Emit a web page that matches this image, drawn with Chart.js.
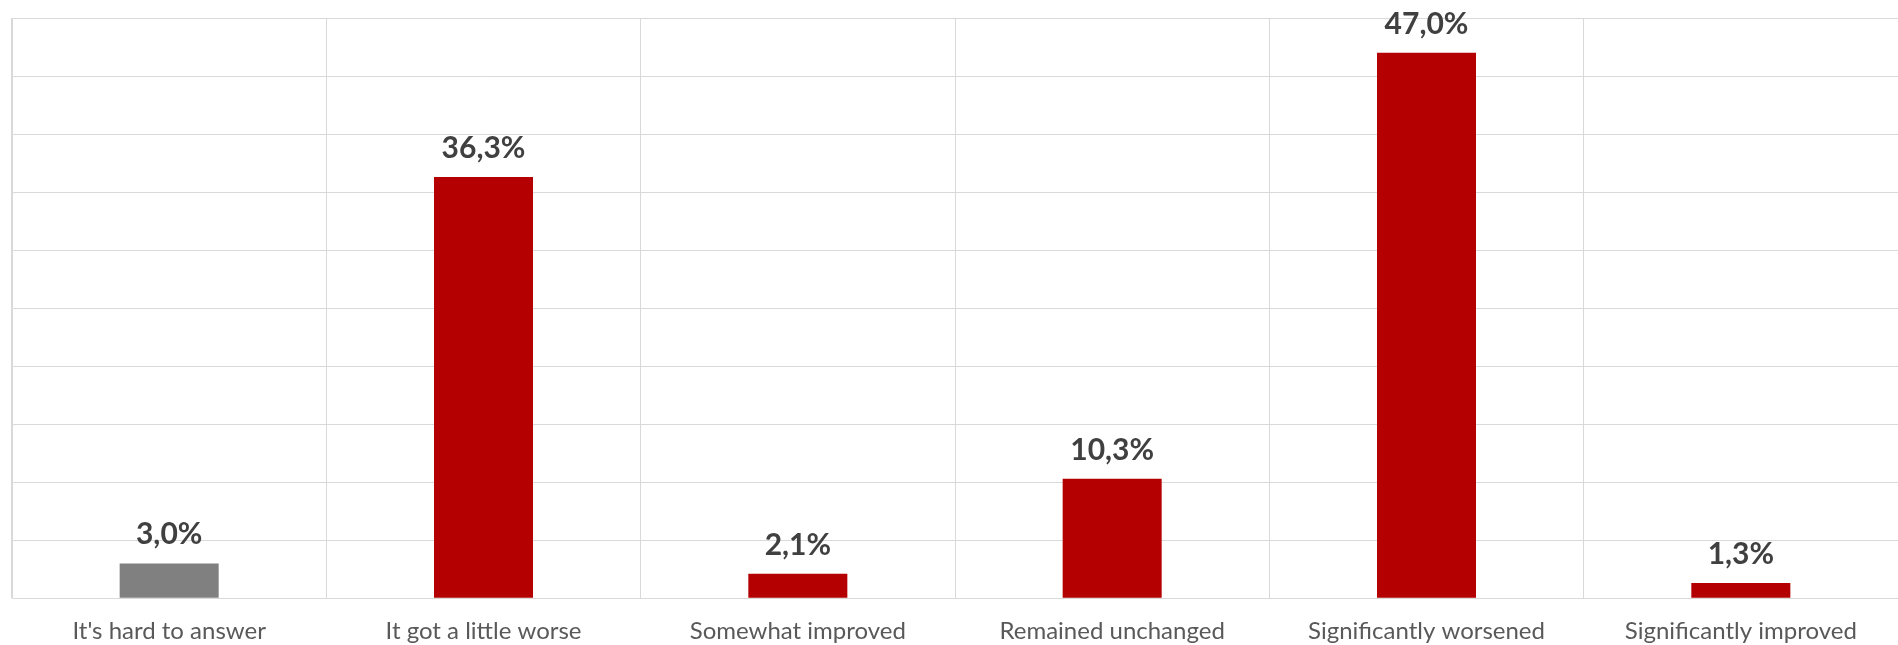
<!DOCTYPE html>
<html>
<head>
<meta charset="utf-8">
<script src="https://cdn.jsdelivr.net/npm/chart.js@4/dist/chart.umd.min.js"></script>
<style>
    html, body { margin: 0; padding: 0; background: #ffffff; }
    #wrap { width: 1898px; height: 645px; position: relative; }
</style>
</head>
<body>
<div id="wrap"><canvas id="barChartDemo"></canvas></div>
<script>
var categories = ["It's hard to answer", "It got a little worse", "Somewhat improved", "Remained unchanged", "Significantly worsened", "Significantly improved"];
var share_values = [3.0, 36.3, 2.1, 10.3, 47.0, 1.3];
var bar_colors = ['#808080', '#b40000', '#b40000', '#b40000', '#b40000', '#b40000'];

// draws the "36,3%" labels above each bar
var valueLabels = {
    id: 'valueLabels',
    afterDatasetsDraw: function(chart) {
        var ctx = chart.ctx;
        var meta = chart.getDatasetMeta(0);
        ctx.save();
        ctx.font = 'bold 30px Lato';
        ctx.fillStyle = '#404040';
        ctx.textAlign = 'center';
        ctx.textBaseline = 'alphabetic';
        meta.data.forEach(function(bar, i) {
            var txt = share_values[i].toFixed(1).replace('.', ',') + '%';
            ctx.fillText(txt, bar.x, bar.y - 19);
        });
        ctx.restore();
    }
};

var ctx = document.getElementById('barChartDemo');
var salesChart = new Chart(ctx, {
    type: 'bar',
    data: {
        labels: categories,
        datasets: [{
            data: share_values,
            backgroundColor: bar_colors,
            borderWidth: 0,
            barPercentage: 0.315,
            categoryPercentage: 1.0
        }]
    },
    options: {
        responsive: true,
        maintainAspectRatio: false,
        animation: false,
        layout: {
            padding: { left: 12, top: 18, right: 0, bottom: -20 }
        },
        plugins: {
            legend: { display: false },
            tooltip: { enabled: false }
        },
        scales: {
            x: {
                grid: { color: '#d9d9d9', drawTicks: false, offset: true },
                border: { color: '#d9d9d9' },
                ticks: {
                    color: '#595959',
                    padding: 19,
                    font: { family: 'Lato', size: 24 }
                }
            },
            y: {
                min: 0,
                max: 50,
                grid: { color: '#d9d9d9', drawTicks: false },
                border: { color: '#d9d9d9' },
                ticks: { display: false, stepSize: 5 }
            }
        }
    },
    plugins: [valueLabels]
});
</script>
</body>
</html>
